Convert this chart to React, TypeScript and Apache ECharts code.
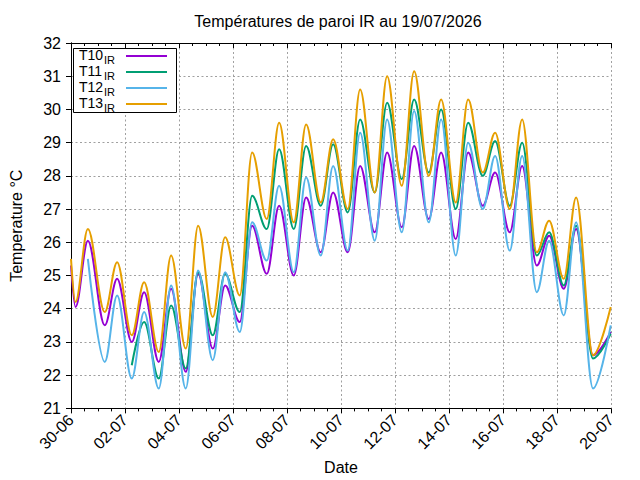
import React, { useEffect, useRef } from 'react';
import * as echarts from 'echarts';

const START = '2026-06-30T00:00';

// instants des minima / maxima journaliers
const times = [
  '2026-06-30T00:00', '2026-06-30T04:00', '2026-06-30T15:00',
  '2026-07-01T06:00', '2026-07-01T17:00',
  '2026-07-02T06:00', '2026-07-02T17:00',
  '2026-07-03T06:00', '2026-07-03T17:00',
  '2026-07-04T06:00', '2026-07-04T17:00',
  '2026-07-05T06:00', '2026-07-05T17:00',
  '2026-07-06T06:00', '2026-07-06T17:00',
  '2026-07-07T06:00', '2026-07-07T17:00',
  '2026-07-08T06:00', '2026-07-08T17:00',
  '2026-07-09T06:00', '2026-07-09T17:00',
  '2026-07-10T06:00', '2026-07-10T17:00',
  '2026-07-11T06:00', '2026-07-11T17:00',
  '2026-07-12T06:00', '2026-07-12T17:00',
  '2026-07-13T06:00', '2026-07-13T17:00',
  '2026-07-14T06:00', '2026-07-14T17:00',
  '2026-07-15T06:00', '2026-07-15T17:00',
  '2026-07-16T06:00', '2026-07-16T17:00',
  '2026-07-17T06:00', '2026-07-17T17:00',
  '2026-07-18T06:00', '2026-07-18T17:00',
  '2026-07-19T08:00', '2026-07-19T23:45',
];

const t10 = [25.3, 24.05, 26.05, 23.5, 24.9, 23.0, 24.5, 22.4, 24.6, 22.1, 25.05, 22.8, 24.7, 23.6, 26.5, 25.05, 27.1, 25.0, 27.35, 25.7, 27.5, 25.7, 28.3, 26.3, 28.7, 26.45, 28.9, 26.7, 28.7, 26.1, 28.7, 27.1, 28.1, 26.3, 28.3, 25.3, 26.2, 24.6, 26.4, 22.6, 23.3];
const t11 = [null, null, null, null, null, 22.3, 23.6, 21.9, 24.1, 22.2, 25.1, 23.2, 25.05, 23.9, 27.4, 26.4, 28.8, 26.4, 28.9, 27.1, 28.95, 26.9, 29.7, 27.5, 30.2, 27.9, 30.3, 28.1, 30.0, 27.0, 29.6, 28.0, 29.05, 27.1, 29.0, 25.6, 26.3, 24.7, 26.5, 22.5, 23.25];
const t12 = [null, null, 25.5, 22.4, 24.4, 21.9, 23.9, 21.6, 24.7, 21.6, 25.15, 22.45, 25.1, 23.3, 26.6, 25.45, 27.7, 25.1, 27.95, 25.6, 28.3, 25.75, 29.3, 26.05, 29.7, 26.3, 29.95, 26.6, 29.7, 25.6, 29.0, 27.0, 28.6, 25.75, 28.6, 24.5, 26.05, 23.8, 26.6, 21.6, 23.5];
const t13 = [25.5, 24.2, 26.4, 23.9, 25.4, 23.2, 24.8, 22.7, 25.6, 22.8, 26.5, 23.75, 26.15, 24.4, 28.7, 26.7, 29.6, 26.6, 29.55, 27.2, 29.1, 27.0, 30.6, 27.5, 31.0, 27.7, 31.15, 28.0, 30.3, 27.2, 30.3, 28.1, 29.3, 27.0, 29.7, 25.7, 26.65, 24.9, 27.35, 22.6, 24.05];

const names = ['T10', 'T11', 'T12', 'T13'];
const colors = ['#9400d3', '#009e73', '#56b4e9', '#e69f00'];

const FONT = '"Liberation Sans", Arial, Helvetica, sans-serif';
const DAY = 86400000;

const toDays = (s: string) => (Date.parse(s + 'Z') - Date.parse(START + 'Z')) / DAY;

const dayLabel = (v: number) => {
  const d = new Date(Date.parse(START + 'Z') + v * DAY);
  const dd = String(d.getUTCDate()).padStart(2, '0');
  const mm = String(d.getUTCMonth() + 1).padStart(2, '0');
  return `${dd}-${mm}`;
};

const App: React.FC = () => {
  const chartRef = useRef<HTMLDivElement>(null);

  useEffect(() => {
    if (!chartRef.current) return;
    const chart = echarts.init(chartRef.current, undefined, { renderer: 'svg' });

    const all = [t10, t11, t12, t13];
    const series = all.map((vals, i) => ({
      name: names[i],
      type: 'line' as const,
      data: times
        .map((t, j) => [toDays(t), vals[j]])
        .filter((p) => p[1] !== null),
      smooth: 0.35,
      smoothMonotone: 'x' as const,
      showSymbol: false,
      symbol: 'none',
      lineStyle: { color: colors[i], width: 2 },
      itemStyle: { color: colors[i] },
    }));

    const grid = { left: 65, right: 29, top: 43, bottom: 70 };
    const dash = { color: '#a0a0a0', type: [2, 2.5], width: 1 };
    const black = { color: '#000', width: 1 };

    // légende façon gnuplot (texte, indice, échantillon)
    const rows = [56, 72, 88, 104];
    const legend: any[] = [
      {
        type: 'rect',
        shape: { x: 73.5, y: 48.5, width: 103, height: 64 },
        style: { fill: '#fff', stroke: '#000', lineWidth: 1 },
        z: 10,
      },
    ];
    rows.forEach((y, i) => {
      legend.push(
        {
          type: 'text',
          x: 79,
          y: y - 1.5,
          style: {
            text: names[i],
            fontSize: 14,
            fontFamily: FONT,
            fill: '#000',
            verticalAlign: 'middle',
          },
          z: 11,
        },
        {
          type: 'text',
          x: 104,
          y: y + 4,
          style: {
            text: 'IR',
            fontSize: 11,
            fontFamily: FONT,
            fill: '#000',
            verticalAlign: 'middle',
          },
          z: 11,
        },
        {
          type: 'line',
          shape: { x1: 126, y1: y, x2: 167, y2: y },
          style: { stroke: colors[i], lineWidth: 2 },
          z: 11,
        }
      );
    });

    const option: any = {
      animation: false,
      backgroundColor: '#fff',
      grid,
      textStyle: { fontFamily: FONT },
      xAxis: [
        {
          type: 'value',
          min: 0,
          max: 20,
          interval: 2,
          position: 'bottom',
          axisLine: { show: true, lineStyle: black },
          axisTick: { show: true, inside: false, length: 5, lineStyle: black },
          minorTick: { show: true, splitNumber: 4, length: 3, lineStyle: black },
          splitLine: { show: true, lineStyle: dash },
          axisLabel: {
            rotate: 45,
            margin: 9,
            fontSize: 16,
            color: '#000',
            fontFamily: FONT,
            formatter: dayLabel,
          },
          name: 'Date',
          nameLocation: 'middle',
          nameGap: 47,
          nameTextStyle: { fontSize: 16, color: '#000', fontFamily: FONT },
        },
        {
          type: 'value',
          min: 0,
          max: 20,
          interval: 2,
          position: 'top',
          axisLine: { show: true, lineStyle: black },
          axisTick: { show: true, inside: true, length: 5, lineStyle: black },
          minorTick: { show: true, splitNumber: 4, length: 3, lineStyle: black },
          splitLine: { show: false },
          axisLabel: { show: false },
        },
      ],
      yAxis: [
        {
          type: 'value',
          min: 21,
          max: 32,
          interval: 1,
          position: 'left',
          axisLine: { show: true, lineStyle: black },
          axisTick: { show: true, inside: false, length: 5, lineStyle: black },
          splitLine: { show: true, lineStyle: dash },
          axisLabel: { margin: 10, fontSize: 16, color: '#000', fontFamily: FONT },
          name: 'Temperature °C',
          nameLocation: 'middle',
          nameGap: 47,
          nameTextStyle: { fontSize: 16, color: '#000', fontFamily: FONT },
        },
        {
          type: 'value',
          min: 21,
          max: 32,
          interval: 1,
          position: 'right',
          axisLine: { show: true, lineStyle: black },
          axisTick: { show: true, inside: true, length: 5, lineStyle: black },
          splitLine: { show: false },
          axisLabel: { show: false },
        },
      ],
      graphic: [
        {
          type: 'text',
          x: 338,
          y: 21,
          style: {
            text: 'Températures de paroi IR au 19/07/2026',
            fontSize: 16,
            fontFamily: FONT,
            fill: '#000',
            align: 'center',
            verticalAlign: 'middle',
          },
        },
        ...legend,
      ],
      series,
    };

    chart.setOption(option);

    return () => {
      chart.dispose();
    };
  }, []);

  return (
    <div
      ref={chartRef}
      style={{ position: 'absolute', left: 0, top: 0, width: '640px', height: '480px' }}
    />
  );
};

export default App;
